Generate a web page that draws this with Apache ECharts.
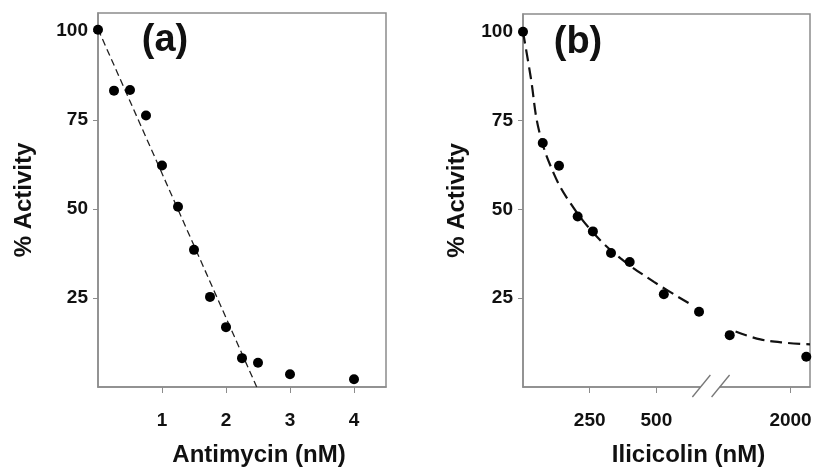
<!DOCTYPE html>
<html>
<head>
<meta charset="utf-8">
<script src="https://cdn.jsdelivr.net/npm/echarts@6/dist/echarts.min.js"></script>
<style>
  html, body { margin: 0; padding: 0; background: #fff; }
  #chart { width: 814px; height: 468px; }
</style>
</head>
<body>
<div id="chart"></div>
<script>
// panel (a): antimycin
var antiX = [0, 0.25, 0.5, 0.75, 1, 1.25, 1.5, 1.75, 2, 2.25, 2.5, 3, 4];
var antiY = [100.3, 83.2, 83.4, 76.2, 62.2, 50.6, 38.5, 25.3, 16.8, 8.1, 6.8, 3.6, 2.2];
var antiFit = [[0, 100.5], [2.48, 0]];
var antiTicks = [1, 2, 3, 4];

// panel (b): ilicicolin (x axis broken between 665 and 1734)
var iliX = [0, 74, 135, 205, 262, 330, 400, 528, 660, 1772, 2059];
var iliY = [100, 68.7, 62.3, 48.0, 43.8, 37.7, 35.2, 26.1, 21.2, 14.6, 8.5];
var iliFit1 = [[0, 100], [29, 87.2], [60, 72.2], [116, 60], [179, 51.6], [266, 43.2], [366, 36.2], [491, 29.6], [635, 23.0]];
var iliFit2 = [[1794, 15.6], [1887, 13.4], [1988, 12.4], [2073, 12.0]];
var iliTicks = [250, 500, 2000];
var iliBreak = { start: 665, end: 1734, gap: 72 };

var yTicks = [25, 50, 75, 100];

var FONT = '"Liberation Sans", Arial, sans-serif';
var GRAY = '#8c8c8c';
var INK = '#111';

function pairs(xs, ys) {
    return xs.map(function (x, i) { return [x, ys[i]]; });
}

function plain(v) { return String(v); }

function yAxis(idx, gap) {
    return {
        type: 'value', gridIndex: idx, min: 0, max: 105, interval: 25,
        axisLine: { show: true, lineStyle: { color: GRAY, width: 1.5 } },
        axisTick: { show: true, length: 5, customValues: yTicks, lineStyle: { color: GRAY } },
        axisLabel: { customValues: yTicks, fontSize: 19, fontWeight: 'bold', color: INK, fontFamily: FONT, margin: 10, formatter: plain },
        splitLine: { show: false },
        name: '% Activity', nameLocation: 'middle', nameGap: gap,
        nameTextStyle: { fontSize: 24, fontWeight: 'bold', color: INK, fontFamily: FONT }
    };
}

var chart = echarts.init(document.getElementById('chart'));
var option = {
    animation: false,
    grid: [
        { left: 98, top: 13, width: 288, height: 374, show: true, borderColor: GRAY, borderWidth: 1.5, outerBoundsMode: 'none' },
        { left: 523, top: 14, width: 287, height: 373, show: true, borderColor: GRAY, borderWidth: 1.5, outerBoundsMode: 'none' }
    ],
    xAxis: [
        {
            type: 'value', gridIndex: 0, min: 0, max: 4.5,
            axisLine: { show: true, lineStyle: { color: GRAY, width: 1.5 } },
            axisTick: { show: true, length: 6, customValues: antiTicks, lineStyle: { color: GRAY } },
            axisLabel: { customValues: antiTicks, fontSize: 19, fontWeight: 'bold', color: INK, fontFamily: FONT, margin: 24, formatter: plain },
            splitLine: { show: false },
            name: 'Antimycin (nM)', nameLocation: 'middle', nameGap: 56,
            nameTextStyle: { fontSize: 24, fontWeight: 'bold', color: INK, fontFamily: FONT, padding: [0, 0, 0, 34] }
        },
        {
            type: 'value', gridIndex: 1, min: 0, max: 2073,
            breaks: [iliBreak],
            breakArea: { show: false },
            axisLine: { show: true, lineStyle: { color: GRAY, width: 1.5 } },
            axisTick: { show: true, length: 6, customValues: iliTicks, lineStyle: { color: GRAY } },
            axisLabel: { customValues: iliTicks, fontSize: 19, fontWeight: 'bold', color: INK, fontFamily: FONT, margin: 24, formatter: plain },
            splitLine: { show: false },
            name: 'Ilicicolin (nM)', nameLocation: 'middle', nameGap: 56,
            nameTextStyle: { fontSize: 24, fontWeight: 'bold', color: INK, fontFamily: FONT, padding: [0, 0, 0, 44] }
        }
    ],
    yAxis: [yAxis(0, 62), yAxis(1, 54)],
    series: [
        {
            type: 'line', xAxisIndex: 0, yAxisIndex: 0, data: antiFit, symbol: 'none',
            lineStyle: { color: '#222', width: 1.3, type: [7, 4] }, z: 2
        },
        {
            type: 'scatter', xAxisIndex: 0, yAxisIndex: 0, data: pairs(antiX, antiY),
            symbolSize: 10, itemStyle: { color: '#000', opacity: 1 }, z: 3
        },
        {
            type: 'line', xAxisIndex: 1, yAxisIndex: 1, data: iliFit1, symbol: 'none', smooth: 0.4,
            lineStyle: { color: INK, width: 2.2, type: [12, 6] }, z: 2
        },
        {
            type: 'line', xAxisIndex: 1, yAxisIndex: 1, data: iliFit2, symbol: 'none', smooth: 0.4,
            lineStyle: { color: INK, width: 2.2, type: [12, 6] }, z: 2
        },
        {
            type: 'scatter', xAxisIndex: 1, yAxisIndex: 1, data: pairs(iliX, iliY),
            symbolSize: 10, itemStyle: { color: '#000', opacity: 1 }, z: 3
        }
    ]
};
chart.setOption(option);

// panel letters and the break slashes on the (b) x axis
var p1 = chart.convertToPixel({ xAxisIndex: 1 }, iliBreak.start);
var p2 = chart.convertToPixel({ xAxisIndex: 1 }, iliBreak.end);
var y0 = chart.convertToPixel({ yAxisIndex: 1 }, 0);
var a0 = chart.convertToPixel({ xAxisIndex: 0 }, 0);
var b0 = chart.convertToPixel({ xAxisIndex: 1 }, 0);
var yTop = chart.convertToPixel({ yAxisIndex: 0 }, 100);

function slash(x) {
    return {
        type: 'line', z: 101,
        shape: { x1: x - 8, y1: y0 + 10, x2: x + 10, y2: y0 - 12 },
        style: { stroke: '#777', lineWidth: 1.3 }
    };
}

chart.setOption({
    graphic: [
        { type: 'rect', z: 100, shape: { x: p1, y: y0 - 3, width: p2 - p1, height: 6 }, style: { fill: '#fff' } },
        slash(p1),
        slash(p2),
        { type: 'text', z: 100, style: { text: '(a)', x: a0 + 67, y: yTop + 10, align: 'center', verticalAlign: 'middle', font: 'bold 38px ' + FONT, fill: INK } },
        { type: 'text', z: 100, style: { text: '(b)', x: b0 + 55, y: yTop + 12, align: 'center', verticalAlign: 'middle', font: 'bold 38px ' + FONT, fill: INK } }
    ]
});
</script>
</body>
</html>
